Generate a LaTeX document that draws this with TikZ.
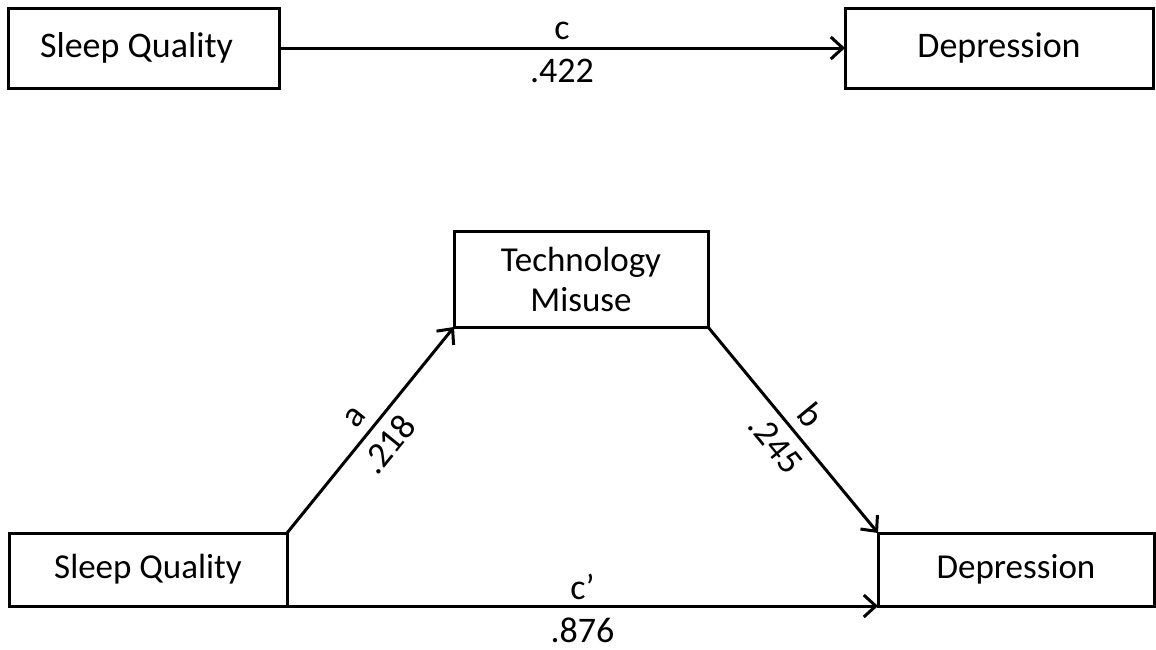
\documentclass[tikz,border=0pt]{standalone}
\usepackage{fontspec}
\setmainfont{Carlito}
\usetikzlibrary{arrows.meta}
\begin{document}
\begin{tikzpicture}[x=1pt,y=-1pt,
  box/.style={draw, line width=3pt, inner sep=0pt, outer sep=0pt, align=center,
    font=\fontsize{36}{40}\selectfont},
  link/.style={line width=3pt, -{Straight Barb[length=12pt,width=22pt,line width=3pt]}},
  lab/.style={font=\fontsize{36}{40}\selectfont, inner sep=9pt}]
\path[fill=white] (0,0) rectangle (1156,649);
\useasboundingbox (0,0) rectangle (1156,649);
% top model
\node[box, minimum width=271pt, minimum height=80pt] (sq1) at (143.5,48) {\hspace*{-14pt}Sleep Quality};
\node[box, minimum width=308pt, minimum height=80pt] (dep1) at (999,48) {Depression};
\draw[link] (sq1.east) -- node[lab, above, inner sep=7pt]{c} node[lab, below, inner sep=10pt]{.422} (dep1.west);
% mediation model
\node[box, minimum width=254pt, minimum height=96pt, font=\fontsize{35}{40}\selectfont] (tm) at (581,279) {Technology\\Misuse};
\node[box, minimum width=278pt, minimum height=73pt, font=\fontsize{35}{40}\selectfont] (sq2) at (148,569.5) {Sleep Quality};
\node[box, minimum width=276pt, minimum height=73pt, font=\fontsize{35}{40}\selectfont] (dep2) at (1016,569.5) {Depression};
\draw[link] (sq2.north east) -- node[lab, sloped, above]{a} node[lab, sloped, below]{.218} (tm.south west);
\draw[link] (tm.south east) -- node[lab, sloped, above]{b} node[lab, sloped, below]{.245} (dep2.north west);
\draw[link] (sq2.south east) -- node[lab, above, inner sep=5pt]{c’} node[lab, below, inner sep=10pt]{.876} (dep2.south west);
\end{tikzpicture}
\end{document}
